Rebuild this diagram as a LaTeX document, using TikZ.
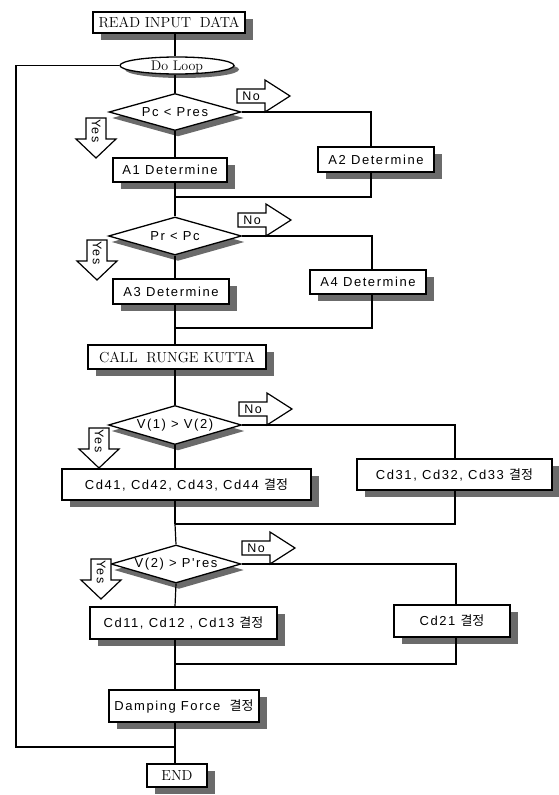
\documentclass[tikz,border=0pt]{standalone}
\usepackage{fontspec}
\newfontfamily\sfx[LetterSpace=12]{Liberation Sans}
\newfontfamily\kr{Noto Sans CJK KR}
\usetikzlibrary{shapes.geometric,shadows,calc}
\definecolor{shadowgray}{gray}{0.42}
\newcommand{\kj}{{\kr 결정}}
\begin{document}
\begin{tikzpicture}[x=1pt,y=-1pt,
  conn/.style={line width=1.2pt},
  shade8/.style={general shadow={shadow xshift=8pt,shadow yshift=-7pt,fill=shadowgray}},
  boxbase/.style={draw,line width=1.3pt,fill=white,inner sep=0pt,shade8},
  sbox/.style={boxbase,font=\sfx\fontsize{13}{15}\selectfont},
  rbox/.style={boxbase,font=\fontsize{14.5}{16}\selectfont},
  dia/.style={diamond,aspect=3.5,draw,line width=1.3pt,fill=white,inner sep=0pt,
    font=\sfx\fontsize{13}{15}\selectfont,
    general shadow={shadow xshift=3pt,shadow yshift=-6pt,fill=shadowgray}},
  symb/.style={draw,line width=1.2pt,fill=white,line join=miter},
  symtext/.style={font=\sfx\fontsize{12.5}{14}\selectfont,inner sep=0pt},
  noarrow/.pic={
    \draw[symb] (0,-7) -- (28,-7) -- (28,-16) -- (53,0) -- (28,16) -- (28,7) -- (0,7) -- cycle;
    \node[symtext] (-t) at (14,0) {No};
  },
  yesarrow/.pic={
    \draw[symb] (-10,0) -- (10,0) -- (10,21) -- (20,21) -- (0,40) -- (-20,21) -- (-10,21) -- cycle;
    \node[symtext,rotate=-90] (-t) at (0,13) {Yes};
  }
]
\useasboundingbox (0,0) rectangle (559,795);

% spine and branch lines
\coordinate (sp) at (175,0);
\coordinate (b1) at (371,0);
\coordinate (b2) at (372,0);
\coordinate (b3) at (455,0);
\coordinate (b4) at (456,0);
\coordinate (j1) at (175,197);
\coordinate (j2) at (175,328);
\coordinate (j3) at (175,524);
\coordinate (j4) at (175,664);
\coordinate (lc) at (16,747);
\coordinate (lb) at (175,747);

% nodes
\node[rbox,minimum width=152pt,minimum height=21pt] (read) at (169,22.5) {READ INPUT\hspace{4pt} DATA};
\node[ellipse,draw,line width=1.3pt,fill=white,inner sep=0pt,minimum width=114pt,minimum height=17pt,
  text height=9.6pt,text depth=0pt,font=\fontsize{14}{16}\selectfont,
  general shadow={shadow xshift=5pt,shadow yshift=-4pt,fill=shadowgray}] (loop) at (177,65.5) {Do Loop};
\node[dia,minimum width=132pt,minimum height=37pt] (d1) at (175,112) {Pc < Pres};
\node[sbox,minimum width=114pt,minimum height=24pt] (A1) at (170,170) {A1 Determine};
\node[sbox,minimum width=116pt,minimum height=25pt] (A2) at (376,159.5) {A2 Determine};
\node[dia,minimum width=133pt,minimum height=38pt] (d2) at (175,236) {Pr < Pc};
\node[sbox,minimum width=116pt,minimum height=25pt] (A3) at (171,291.5) {A3 Determine};
\node[sbox,minimum width=116pt,minimum height=24pt] (A4) at (368,282) {A4 Determine};
\node[rbox,minimum width=178pt,minimum height=24pt] (call) at (177,357) {CALL\hspace{4pt} RUNGE KUTTA};
\node[dia,minimum width=133pt,minimum height=39pt] (d3) at (175,425) {V(1) > V(2)};
\node[sbox,minimum width=249pt,minimum height=31pt] (C41) at (186.5,484.5) {Cd41, Cd42, Cd43, Cd44 \kj};
\node[sbox,minimum width=195pt,minimum height=31pt] (C31) at (454.5,474.5) {Cd31, Cd32, Cd33 \kj};
\node[dia,minimum width=130pt,minimum height=38pt] (d4) at (176,564) {V(2) > P'res};
\node[sbox,minimum width=187pt,minimum height=32pt] (C11) at (183.5,623) {Cd11, Cd12 , Cd13 \kj};
\node[sbox,minimum width=116pt,minimum height=32pt] (C21) at (452,621) {Cd21 \kj};
\node[sbox,minimum width=150pt,minimum height=32pt] (damp) at (184,706) {Damping Force\hspace{4pt} \kj};
\node[rbox,minimum width=60pt,minimum height=23pt] (endn) at (177,775.5) {END};

% Yes / No symbols
\pic (no1) at (237,96) {noarrow};
\pic (no2) at (238,220) {noarrow};
\pic (no3) at (239,409) {noarrow};
\pic (no4) at (242,548) {noarrow};
\pic (yes1) at (96,118) {yesarrow};
\pic (yes2) at (97,240) {yesarrow};
\pic (yes3) at (99,428) {yesarrow};
\pic (yes4) at (101,559) {yesarrow};

% connectors
\draw[conn] (read.south -| sp) -- (loop.north -| sp);
\draw[conn] (loop.south -| sp) -- (d1.north);
\draw[conn] (d1.south) -- (A1.north -| sp);
\draw[conn] (A1.south -| sp) -- (j1);
\draw[conn] (d1.east) -| (A2.north -| b1);
\draw[conn] (A2.south -| b1) |- (j1);
\draw[conn] (j1) -- (d2.north);
\draw[conn] (d2.south) -- (A3.north -| sp);
\draw[conn] (A3.south -| sp) -- (j2);
\draw[conn] (d2.east) -| (A4.north -| b2);
\draw[conn] (A4.south -| b2) |- (j2);
\draw[conn] (j2) -- (call.north -| sp);
\draw[conn] (call.south -| sp) -- (d3.north);
\draw[conn] (d3.south) -- (C41.north -| sp);
\draw[conn] (C41.south -| sp) -- (j3);
\draw[conn] (d3.east) -| (C31.north -| b3);
\draw[conn] (C31.south -| b3) |- (j3);
\draw[conn] (j3) -- (d4.north);
\draw[conn] (d4.south) -- (C11.north -| sp);
\draw[conn] (C11.south -| sp) -- (j4);
\draw[conn] (d4.east) -| (C21.north -| b4);
\draw[conn] (C21.south -| b4) |- (j4);
\draw[conn] (j4) -- (damp.north -| sp);
\draw[conn] (damp.south -| sp) -- (endn.north -| sp);
\draw[conn] (loop.west) -| (lc) -- (lb);
\end{tikzpicture}
\end{document}
